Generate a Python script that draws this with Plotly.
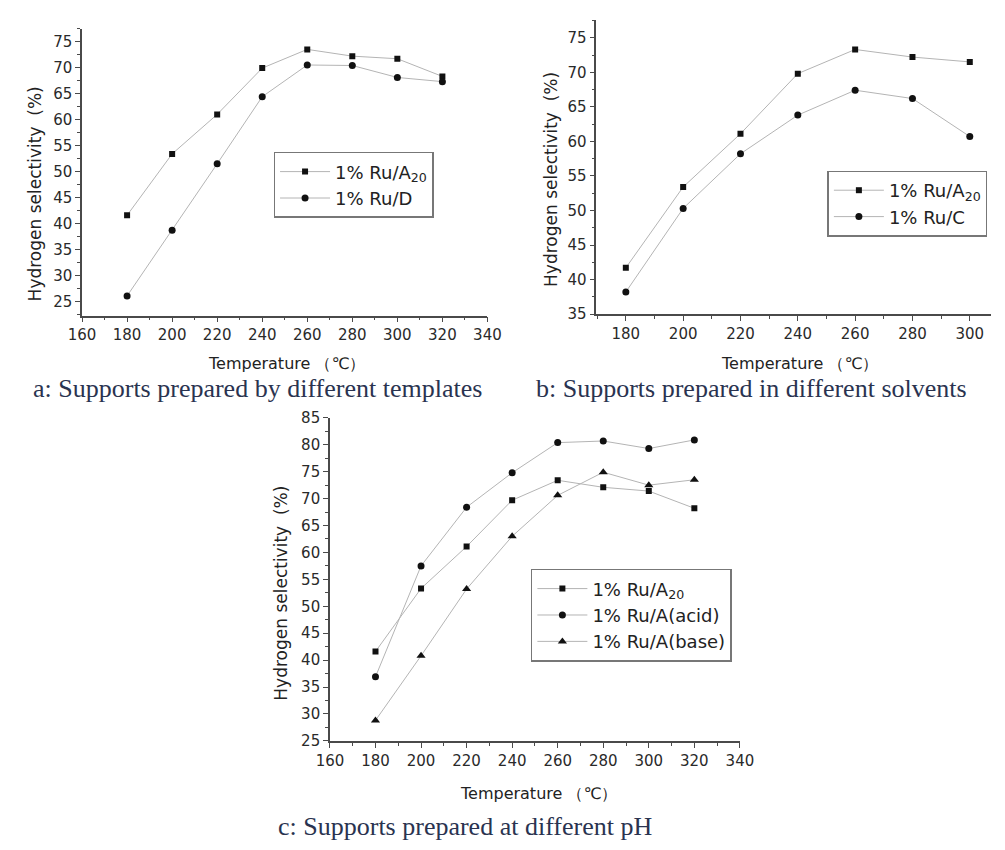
import plotly.graph_objects as go

# ---------------- data ----------------
temps_a = [180, 200, 220, 240, 260, 280, 300, 320]
a_ruA20 = [41.6, 53.4, 61.0, 69.9, 73.5, 72.2, 71.7, 68.3]
a_ruD = [26.1, 38.7, 51.5, 64.4, 70.5, 70.4, 68.1, 67.3]

temps_b = [180, 200, 220, 240, 260, 280, 300]
b_ruA20 = [41.7, 53.4, 61.1, 69.8, 73.3, 72.2, 71.5]
b_ruC = [38.2, 50.3, 58.2, 63.8, 67.4, 66.2, 60.7]

temps_c = [180, 200, 220, 240, 260, 280, 300, 320]
c_ruA20 = [41.6, 53.3, 61.1, 69.7, 73.4, 72.1, 71.4, 68.2]
c_acid = [36.9, 57.5, 68.4, 74.8, 80.4, 80.7, 79.3, 80.9]
c_base = [28.8, 40.8, 53.2, 63.0, 70.6, 74.9, 72.5, 73.5]

names_a = ["1% Ru/A<sub>20</sub>", "1% Ru/D"]
names_b = ["1% Ru/A<sub>20</sub>", "1% Ru/C"]
names_c = ["1% Ru/A<sub>20</sub>", "1% Ru/A(acid)", "1% Ru/A(base)"]

x_title = "Temperature （℃）"
y_title = "Hydrogen selectivity  (%)"
captions = ["a: Supports prepared by different templates",
            "b: Supports prepared in different solvents",
            "c: Supports prepared at different pH"]

# ---------------- figure ----------------
W, H = 1005, 850
LINE = "#b4b4b4"
MK = "#111111"
AX = "#4a4a4a"
SANS = "DejaVu Sans"
SERIF = "Liberation Serif"

fig = go.Figure()

def add(x, y, name, sym, xa, ya, leg, size=7):
    fig.add_trace(go.Scatter(
        x=x, y=y, name=name, mode="lines+markers",
        line=dict(color=LINE, width=1),
        marker=dict(symbol=sym, size=size, color=MK),
        xaxis=xa, yaxis=ya, legend=leg))

add(temps_a, a_ruA20, names_a[0], "square", "x", "y", "legend", 6)
add(temps_a, a_ruD, names_a[1], "circle", "x", "y", "legend", 7)
add(temps_b, b_ruA20, names_b[0], "square", "x2", "y2", "legend2", 6)
add(temps_b, b_ruC, names_b[1], "circle", "x2", "y2", "legend2", 7)
add(temps_c, c_ruA20, names_c[0], "square", "x3", "y3", "legend3", 6)
add(temps_c, c_acid, names_c[1], "circle", "x3", "y3", "legend3", 7)
add(temps_c, c_base, names_c[2], "triangle-up", "x3", "y3", "legend3", 8)

def px(v):
    return v / W

def py(v):
    return 1 - v / H

def xax(dom, rng, anchor):
    return dict(domain=dom, range=rng, anchor=anchor, showgrid=False, zeroline=False,
                showline=True, linecolor=AX, linewidth=1.5, ticks="outside",
                ticklen=5, tickwidth=1.2, tickcolor=AX, dtick=20, tick0=0,
                minor=dict(ticks="outside", ticklen=3, dtick=10, tickcolor=AX, tickwidth=1),
                tickfont=dict(family=SANS, size=15, color="#2a2a2a"))

def yax(dom, rng, anchor):
    return dict(domain=dom, range=rng, anchor=anchor, showgrid=False, zeroline=False,
                showline=True, linecolor=AX, linewidth=1.5, ticks="outside",
                ticklen=5, tickwidth=1.2, tickcolor=AX, dtick=5, tick0=0,
                minor=dict(ticks="outside", ticklen=3, dtick=2.5, tickcolor=AX, tickwidth=1),
                tickfont=dict(family=SANS, size=15, color="#2a2a2a"))

def legend(x, y):
    return dict(x=x, y=y, xanchor="left", yanchor="top", bgcolor="white",
                bordercolor="#777", borderwidth=1.5,
                font=dict(family=SANS, size=18, color="#222"),
                itemwidth=50, tracegroupgap=0)

fig.update_layout(
    width=W, height=H, margin=dict(l=0, r=0, t=0, b=0),
    paper_bgcolor="white", plot_bgcolor="white", showlegend=True,
    xaxis=xax([px(70), px(487)], [160, 340], "y"),
    yaxis=yax([py(313.3), py(20)], [22.3, 77.5], "x"),
    xaxis2=xax([px(599), 1.0], [169.7, 307.4], "y2"),
    yaxis2=yax([py(311.7), py(11.7)], [35, 77.5], "x2"),
    xaxis3=xax([px(325), px(746.7)], [160, 340], "y3"),
    yaxis3=yax([py(747.7), py(417.7)], [25, 85], "x3"),
    legend=legend(px(267), py(146)),
    legend2=legend(px(836.7), py(165)),
    legend3=legend(px(531.7), py(572)),
)

ann = []
for cx, cy in [(280, 361.7), (808, 361.7), (540, 801.7)]:
    ann.append(dict(text=x_title, x=px(cx), y=py(cy), xref="paper", yref="paper",
                    showarrow=False, xanchor="center", yanchor="middle",
                    font=dict(family=SANS, size=16, color="#222")))
for cx, cy in [(22, 189), (553, 174), (275, 597)]:
    ann.append(dict(text=y_title, x=px(cx), y=py(cy), xref="paper", yref="paper",
                    showarrow=False, xanchor="center", yanchor="middle", textangle=-90,
                    font=dict(family=SANS, size=17, color="#222")))
for (cx, cy), t in zip([(250, 388), (759, 388), (464, 835)], captions):
    ann.append(dict(text=t, x=px(cx), y=py(cy), xref="paper", yref="paper",
                    showarrow=False, xanchor="center", yanchor="middle",
                    font=dict(family=SERIF, size=26, color="#2a3350")))
fig.update_layout(annotations=ann)

fig.write_html("out.html")
